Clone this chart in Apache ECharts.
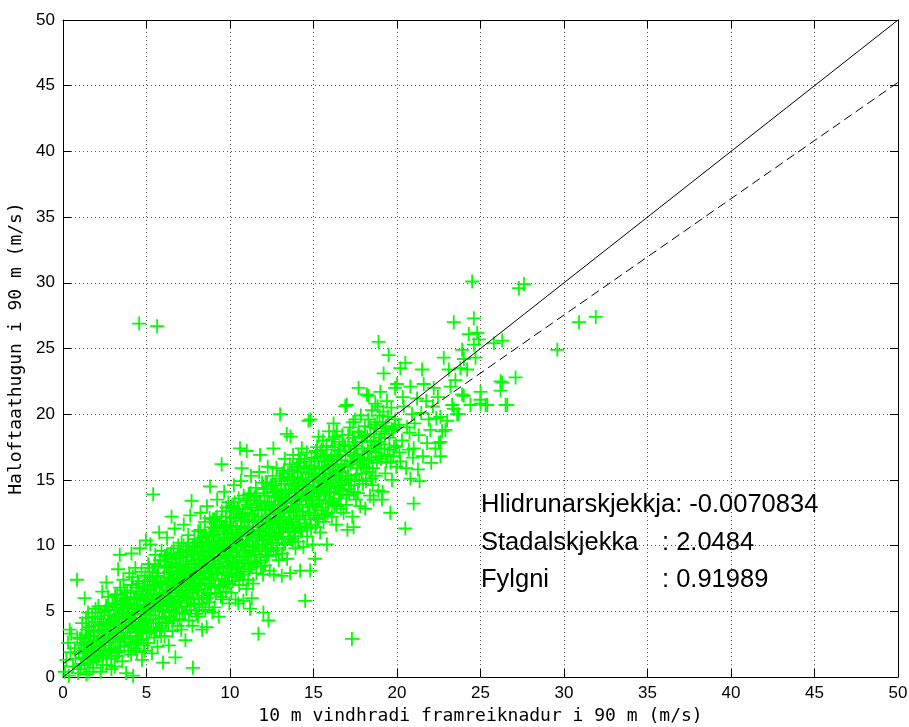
<!DOCTYPE html>
<html>
<head>
<meta charset="utf-8">
<title>Vindhradi 90 m</title>
<script src="https://cdn.jsdelivr.net/npm/echarts@6/dist/echarts.min.js"></script>
<style>
  html, body { margin: 0; padding: 0; background: #fff; }
  #chart { width: 909px; height: 727px; }
</style>
</head>
<body>
<div id="chart"></div>
<script>
// Forecast (x) vs. observed (y) wind speed at 90 m, m/s
const pointsLow = [
  [0.1,0.4],[0.2,1.3],[0.3,2.6],[0.35,0.1],[0.45,1.9],[0.5,3.3],[0.6,0.8],[0.7,2.2],[0.75,1.4],[0.85,3.0],[0.9,0.3],[0.95,1.8],[0.84,7.4],[0.4,3.6],
  [1.05,0.6],[1.1,2.4],[1.15,4.1],[1.2,1.5],[1.3,6.0],[1.35,3.2],[1.4,0.2],[1.45,2.0],[1.55,3.8],[1.6,1.1],[1.65,2.7],[1.75,4.6],[1.8,0.7],[1.85,3.4],[1.9,1.9],[1.95,5.2],[1.5,4.9],[1.7,2.2],
  [2.05,1.2],[2.1,3.5],[2.12,5.4],[2.2,2.3],[2.25,0.4],[2.3,4.4],[2.35,6.5],[2.4,1.7],[2.45,3.0],[2.5,5.0],[2.55,2.6],[2.6,0.9],[2.65,3.9],[2.7,6.1],[2.75,1.9],[2.8,4.7],[2.85,3.3],[2.9,2.1],[2.95,5.6],[2.6,7.2],[2.2,4.0],[2.9,0.6],[2.4,2.9],[2.7,4.2],
  [3.02,2.2],[3.05,4.6],[3.1,0.8],[3.12,6.2],[3.18,3.4],[3.22,5.3],[3.25,1.6],[3.3,8.2],[3.32,4.0],[3.38,2.7],[3.4,9.3],[3.42,6.8],[3.48,3.1],[3.5,5.0],[3.55,1.2],[3.58,4.4],[3.62,7.4],[3.66,2.4],[3.7,5.8],[3.74,3.7],[3.78,0.3],[3.82,4.9],[3.85,6.4],[3.9,2.0],[3.93,3.9],[3.97,7.9],[3.6,5.5],[3.35,3.8],[3.88,5.2],[3.15,2.9],
  [4.02,3.1],[4.05,5.6],[4.08,1.7],[4.1,9.4],[4.12,7.0],[4.16,4.2],[4.2,0.1],[4.22,2.6],[4.25,6.1],[4.3,4.8],[4.33,8.3],[4.36,3.4],[4.4,5.5],[4.42,1.9],[4.46,7.3],[4.5,4.0],[4.52,2.8],[4.56,26.9],[4.58,6.5],[4.6,9.8],[4.63,5.0],[4.67,3.6],[4.7,8.0],[4.73,1.3],[4.76,4.5],[4.8,6.9],[4.83,2.4],[4.86,5.8],[4.9,3.9],[4.93,7.7],[4.96,10.4],[4.98,5.1],[4.15,3.8],[4.45,6.0],[4.65,4.2],[4.88,2.0]
];
const pointsMid = [
  [5.02,4.3],[5.05,6.6],[5.08,2.6],[5.1,8.6],[5.14,5.2],[5.18,3.4],[5.2,7.4],[5.23,10.1],[5.26,4.7],[5.3,6.0],[5.33,1.8],[5.36,8.0],[5.4,13.9],[5.42,5.5],[5.46,3.0],[5.5,7.0],[5.53,9.3],[5.56,4.1],[5.6,6.3],[5.64,26.7],[5.66,2.3],[5.7,8.4],[5.73,5.0],[5.76,11.0],[5.8,3.7],[5.83,7.1],[5.86,5.9],[5.9,9.6],[5.93,4.5],[5.96,6.8],[5.99,1.1],[5.45,6.9],[5.75,4.4],[5.15,5.9],[5.62,7.7],[5.88,3.1],
  [6.02,5.0],[6.05,7.6],[6.08,3.1],[6.1,9.2],[6.14,6.1],[6.17,4.2],[6.2,8.3],[6.23,10.6],[6.26,5.5],[6.3,7.0],[6.33,2.4],[6.36,9.0],[6.4,6.4],[6.43,4.6],[6.46,8.0],[6.5,12.2],[6.52,5.9],[6.55,3.5],[6.58,7.5],[6.62,9.8],[6.65,4.9],[6.68,11.3],[6.7,6.8],[6.73,1.5],[6.76,8.6],[6.8,5.3],[6.83,7.2],[6.86,3.9],[6.9,10.0],[6.93,6.2],[6.96,8.1],[6.99,4.4],[6.45,7.3],[6.15,8.8],[6.85,9.3],[6.6,5.7],[6.35,5.1],[6.78,6.6],
  [7.02,5.8],[7.05,8.4],[7.08,3.6],[7.1,10.2],[7.13,6.9],[7.16,4.8],[7.2,9.1],[7.23,11.6],[7.26,6.2],[7.3,7.8],[7.33,2.8],[7.36,9.7],[7.4,5.4],[7.43,8.6],[7.46,7.1],[7.5,10.8],[7.52,4.3],[7.55,6.6],[7.58,8.1],[7.62,12.3],[7.65,5.6],[7.68,9.4],[7.7,13.4],[7.72,7.4],[7.75,3.9],[7.78,0.7],[7.8,8.9],[7.83,6.0],[7.86,10.5],[7.9,7.7],[7.93,5.1],[7.96,9.9],[7.99,6.7],[7.15,7.5],[7.45,9.2],[7.6,7.0],[7.88,8.3],[7.35,6.4],[7.25,8.1],[7.7,5.9],
  [8.02,6.6],[8.05,9.4],[8.08,4.6],[8.1,11.1],[8.13,7.8],[8.16,5.6],[8.2,10.2],[8.23,12.5],[8.26,7.1],[8.3,8.7],[8.33,3.6],[8.36,10.6],[8.4,6.2],[8.43,9.5],[8.46,7.9],[8.5,11.8],[8.52,5.1],[8.55,7.4],[8.58,9.0],[8.6,3.8],[8.62,13.0],[8.65,6.4],[8.68,10.3],[8.72,8.3],[8.75,5.7],[8.8,14.5],[8.82,9.7],[8.85,6.9],[8.88,11.4],[8.92,8.6],[8.95,4.9],[8.98,10.8],[8.15,8.9],[8.45,8.4],[8.7,7.6],[8.9,7.4],[8.35,5.3],[8.25,9.9],[8.55,10.1],[8.78,12.1],
  [9.02,7.4],[9.05,10.3],[9.08,5.3],[9.1,12.0],[9.13,8.6],[9.16,6.4],[9.2,11.1],[9.23,13.5],[9.26,7.9],[9.3,9.6],[9.33,4.6],[9.36,11.6],[9.4,7.0],[9.43,10.4],[9.46,8.8],[9.5,16.2],[9.52,12.6],[9.55,5.9],[9.58,8.2],[9.62,9.9],[9.65,14.1],[9.68,7.3],[9.7,11.3],[9.73,9.2],[9.76,6.5],[9.8,12.9],[9.83,10.6],[9.86,7.8],[9.9,13.3],[9.93,9.5],[9.96,5.6],[9.99,11.8],[9.15,9.8],[9.45,6.1],[9.6,10.9],[9.85,8.5],[9.35,8.3],[9.25,10.0],[9.75,12.2],[9.95,7.1]
];
const pointsHigh = [
  [10.02,8.3],[10.05,11.2],[10.08,6.4],[10.1,13.0],[10.13,9.5],[10.16,7.3],[10.2,12.1],[10.23,14.6],[10.26,8.8],[10.3,10.5],[10.33,5.9],[10.36,12.6],[10.4,7.9],[10.43,11.4],[10.46,9.7],[10.5,5.6],[10.52,13.6],[10.55,7.0],[10.58,9.1],[10.6,17.4],[10.62,10.8],[10.65,14.9],[10.68,8.2],[10.7,15.9],[10.72,12.2],[10.75,10.1],[10.78,7.4],[10.8,5.8],[10.82,13.8],[10.85,11.5],[10.88,8.7],[10.92,12.8],[10.95,10.4],[10.98,6.7],[10.15,10.6],[10.45,8.3],[10.64,11.9],[10.9,9.4],[10.38,9.2],[10.28,13.3],
  [11.0,17.2],[11.03,9.2],[11.06,12.0],[11.09,7.4],[11.12,13.9],[11.15,10.3],[11.18,8.2],[11.2,5.2],[11.23,12.9],[11.26,15.3],[11.3,6.0],[11.32,9.7],[11.35,11.4],[11.38,7.1],[11.42,13.5],[11.45,8.8],[11.48,12.2],[11.52,10.6],[11.55,14.4],[11.58,7.9],[11.62,10.0],[11.65,12.7],[11.7,3.3],[11.72,11.1],[11.75,15.6],[11.78,9.1],[11.8,16.9],[11.82,13.2],[11.85,8.4],[11.88,11.8],[11.92,14.8],[11.95,10.4],[11.98,7.8],[11.1,11.0],[11.4,10.1],[11.6,13.8],[11.9,9.6],[11.28,8.6],
  [12.0,4.9],[12.03,10.1],[12.06,13.0],[12.1,8.5],[12.13,14.8],[12.16,11.3],[12.2,9.2],[12.23,13.8],[12.26,16.0],[12.3,4.3],[12.32,10.7],[12.35,12.4],[12.38,8.1],[12.42,14.5],[12.45,9.8],[12.48,13.1],[12.52,11.6],[12.55,15.3],[12.6,17.4],[12.62,7.8],[12.65,10.9],[12.68,13.7],[12.72,12.1],[12.75,9.3],[12.78,15.9],[12.82,10.2],[12.85,14.1],[12.88,12.8],[12.92,8.9],[12.95,11.9],[12.98,13.4],[12.15,12.0],[12.4,11.0],[12.7,14.6],[12.9,10.6],[12.25,9.6],
  [13.0,20.0],[13.03,11.0],[13.06,13.9],[13.1,7.7],[13.12,9.4],[13.15,15.5],[13.18,12.2],[13.22,10.1],[13.25,14.7],[13.28,16.6],[13.32,11.6],[13.35,13.3],[13.4,18.5],[13.42,9.0],[13.45,15.2],[13.48,10.7],[13.52,14.0],[13.55,12.5],[13.58,16.2],[13.6,7.9],[13.62,18.3],[13.65,11.8],[13.68,14.6],[13.72,13.0],[13.75,10.3],[13.78,16.9],[13.82,11.3],[13.85,15.0],[13.88,13.7],[13.92,9.8],[13.95,12.8],[13.98,14.3],[13.2,13.0],[13.5,12.0],[13.7,15.7],[13.9,11.0],
  [14.02,12.0],[14.05,14.8],[14.08,10.3],[14.12,16.3],[14.15,13.1],[14.2,8.1],[14.22,11.1],[14.25,15.6],[14.3,17.4],[14.32,12.6],[14.35,14.2],[14.4,9.9],[14.43,16.0],[14.46,11.7],[14.5,5.8],[14.52,15.0],[14.55,13.4],[14.6,17.1],[14.62,10.7],[14.65,12.9],[14.7,19.5],[14.72,15.5],[14.75,14.0],[14.8,8.1],[14.82,19.6],[14.85,11.3],[14.88,16.6],[14.92,13.7],[14.95,10.1],[14.98,15.2],[14.28,13.6],[14.58,14.6],[14.78,12.3],[14.1,16.9]
];
const pointsUpper = [
  [15.02,13.0],[15.05,15.8],[15.1,9.0],[15.12,11.4],[15.15,17.2],[15.2,14.0],[15.23,12.1],[15.27,16.4],[15.3,18.3],[15.33,13.5],[15.37,15.2],[15.4,11.0],[15.43,17.0],[15.47,12.7],[15.5,15.9],[15.53,14.4],[15.57,18.0],[15.6,11.8],[15.63,13.8],[15.67,16.8],[15.7,15.0],[15.73,12.4],[15.77,17.6],[15.8,10.1],[15.83,14.8],[15.87,16.1],[15.9,13.2],[15.93,18.7],[15.97,15.5],[15.45,14.2],[15.65,15.8],[15.25,15.0],
  [16.02,14.0],[16.06,16.6],[16.1,12.2],[16.14,18.1],[16.18,15.0],[16.2,19.3],[16.24,13.1],[16.28,17.3],[16.32,15.8],[16.36,11.6],[16.4,18.7],[16.44,14.5],[16.48,16.9],[16.52,13.6],[16.56,17.9],[16.6,15.3],[16.64,12.8],[16.68,16.2],[16.72,18.4],[16.76,14.2],[16.8,12.5],[16.84,16.0],[16.88,17.6],[16.9,20.6],[16.94,15.1],[16.98,13.8],[16.5,15.6],[16.3,14.6],[16.7,14.8],[16.15,16.0],
  [17.0,20.7],[17.03,11.2],[17.06,15.3],[17.1,17.6],[17.14,13.9],[17.18,19.0],[17.22,16.2],[17.26,14.6],[17.3,2.9],[17.32,12.2],[17.36,18.2],[17.4,11.4],[17.43,16.8],[17.47,15.0],[17.5,19.6],[17.54,13.5],[17.58,17.4],[17.62,15.9],[17.66,14.0],[17.7,22.0],[17.72,18.6],[17.76,16.5],[17.8,13.0],[17.84,19.9],[17.88,15.5],[17.92,17.9],[17.96,14.7],[17.45,17.9],
  [18.02,16.0],[18.06,18.4],[18.1,12.8],[18.14,14.9],[18.2,21.5],[18.24,17.2],[18.28,19.6],[18.3,21.4],[18.34,15.6],[18.38,13.8],[18.42,18.0],[18.46,16.7],[18.5,20.3],[18.54,14.6],[18.6,13.5],[18.64,17.6],[18.68,19.2],[18.72,15.3],[18.76,18.9],[18.8,16.3],[18.84,20.6],[18.88,14.2],[18.92,17.9],[18.96,19.9],[18.45,15.1],[18.7,20.8],
  [18.9,25.5],[19.0,21.7],[19.04,16.6],[19.08,18.7],[19.1,13.5],[19.14,14.1],[19.18,20.2],[19.2,23.1],[19.24,17.4],[19.3,15.5],[19.34,19.1],[19.4,21.0],[19.44,16.9],[19.5,24.5],[19.54,18.2],[19.6,12.5],[19.62,16.3],[19.66,20.5],[19.7,15.0],[19.76,18.8],[19.82,17.5],[19.88,22.0],[19.9,19.6],[19.96,16.0]
];
// densest part of the cloud, close to the fit line
const pointsCore = [
  [1.02,2.9],[1.08,1.0],[1.12,3.0],[1.22,2.6],[1.28,0.9],[1.32,1.8],[1.42,3.6],[1.48,1.3],[1.52,2.5],[1.58,0.4],[1.62,3.1],[1.68,1.6],[1.72,3.9],[1.78,2.4],[1.82,1.3],[1.88,2.8],[1.92,4.2],[1.98,1.5],[1.25,2.0],[1.38,4.5],
  [2.02,2.7],[2.08,4.6],[2.14,1.6],[2.18,3.1],[2.24,4.9],[2.28,2.0],[2.32,3.6],[2.38,0.9],[2.42,4.1],[2.48,2.4],[2.52,3.5],[2.58,5.4],[2.62,1.4],[2.68,3.2],[2.72,5.1],[2.78,2.7],[2.82,3.9],[2.88,1.4],[2.92,4.3],[2.98,3.0],
  [3.04,3.6],[3.08,5.5],[3.14,2.0],[3.2,4.5],[3.24,6.3],[3.28,3.0],[3.34,4.8],[3.36,1.9],[3.44,5.6],[3.46,2.3],[3.52,4.2],[3.54,6.0],[3.6,3.1],[3.64,4.9],[3.68,6.6],[3.72,2.9],[3.76,4.4],[3.8,5.9],[3.86,3.4],[3.92,5.3],[3.96,4.6],[3.99,2.7],
  [4.03,4.4],[4.06,6.4],[4.1,2.5],[4.14,5.2],[4.18,7.6],[4.24,3.9],[4.28,5.9],[4.32,2.2],[4.34,4.5],[4.38,6.8],[4.44,3.1],[4.48,5.2],[4.54,7.1],[4.57,3.7],[4.62,5.9],[4.66,2.9],[4.7,4.8],[4.74,6.3],[4.78,3.5],[4.82,5.4],[4.87,7.3],[4.92,4.4],[4.95,6.0],[4.99,3.3],
  [5.03,5.3],[5.06,7.3],[5.1,3.8],[5.13,6.2],[5.17,8.3],[5.21,4.7],[5.25,6.7],[5.29,3.6],[5.32,5.8],[5.38,7.6],[5.41,4.4],[5.44,6.3],[5.48,8.6],[5.52,5.2],[5.58,7.3],[5.61,3.5],[5.65,5.6],[5.68,7.9],[5.72,4.1],[5.78,6.4],[5.81,8.9],[5.84,5.4],[5.9,7.2],[5.94,3.9],[5.97,5.7],
  [6.03,6.2],[6.07,8.5],[6.11,4.6],[6.16,7.0],[6.19,5.4],[6.22,9.3],[6.27,6.6],[6.31,4.1],[6.34,8.0],[6.38,5.8],[6.42,7.5],[6.47,9.4],[6.51,5.0],[6.54,6.9],[6.57,8.7],[6.61,4.3],[6.64,7.6],[6.69,5.6],[6.72,9.0],[6.75,7.0],[6.79,4.9],[6.82,8.3],[6.87,6.1],[6.91,7.8],[6.95,5.3],[6.98,9.1],
  [7.03,7.1],[7.07,9.5],[7.11,5.3],[7.14,8.0],[7.18,6.1],[7.22,10.0],[7.27,7.3],[7.31,4.9],[7.34,8.8],[7.38,6.6],[7.42,7.9],[7.47,10.2],[7.51,6.0],[7.54,8.3],[7.57,9.6],[7.61,5.1],[7.64,7.5],[7.69,8.6],[7.73,6.4],[7.77,10.0],[7.81,7.2],[7.85,5.5],[7.89,9.3],[7.92,6.9],[7.95,8.1],[7.98,4.8],
  [8.03,8.0],[8.07,10.3],[8.11,6.0],[8.14,9.0],[8.18,7.0],[8.22,11.2],[8.27,8.3],[8.31,5.9],[8.34,9.6],[8.38,7.5],[8.42,8.7],[8.47,11.0],[8.51,6.7],[8.54,9.2],[8.57,10.7],[8.61,6.0],[8.64,8.5],[8.69,9.5],[8.73,7.1],[8.77,10.8],[8.81,8.1],[8.84,6.3],[8.89,10.1],[8.93,7.9],[8.96,9.1],[8.99,12.0],
  [9.03,8.9],[9.07,11.3],[9.11,6.9],[9.14,9.9],[9.18,7.8],[9.22,12.2],[9.27,9.1],[9.31,6.8],[9.34,10.6],[9.38,8.4],[9.42,9.6],[9.47,11.9],[9.51,7.5],[9.54,10.1],[9.57,11.4],[9.61,6.9],[9.64,9.3],[9.69,10.4],[9.73,8.0],[9.77,11.6],[9.81,9.0],[9.84,7.2],[9.89,11.0],[9.92,8.7],[9.95,10.0],[9.98,12.6],
  [10.03,9.8],[10.07,12.2],[10.11,7.7],[10.14,10.9],[10.18,8.6],[10.22,13.0],[10.27,10.0],[10.31,7.6],[10.34,11.5],[10.38,8.3],[10.42,10.4],[10.47,12.8],[10.51,8.4],[10.54,11.0],[10.57,12.4],[10.61,7.8],[10.63,10.2],[10.69,11.3],[10.73,8.9],[10.77,12.5],[10.81,9.9],[10.84,8.0],[10.89,11.9],[10.93,9.6],[10.96,10.9],[10.99,13.4],
  [11.02,10.7],[11.07,13.1],[11.11,8.6],[11.14,11.8],[11.17,9.5],[11.22,14.0],[11.27,10.9],[11.31,8.4],[11.34,12.4],[11.37,9.9],[11.41,11.2],[11.47,13.7],[11.51,9.3],[11.54,11.9],[11.57,13.2],[11.61,8.7],[11.64,11.1],[11.69,12.2],[11.73,9.8],[11.77,13.4],[11.81,10.8],[11.84,8.9],[11.89,12.8],[11.93,10.5],[11.96,11.8],[11.99,14.3],
  [12.02,11.6],[12.07,14.0],[12.11,9.6],[12.14,12.7],[12.17,10.4],[12.22,14.8],[12.27,11.8],[12.31,9.3],[12.34,13.3],[12.37,10.8],[12.41,12.1],[12.47,14.6],[12.51,10.2],[12.54,12.8],[12.57,14.1],[12.61,9.6],[12.64,12.0],[12.69,13.1],[12.73,10.7],[12.77,14.3],[12.81,11.7],[12.84,9.8],[12.89,13.7],[12.93,11.4],[12.96,12.7],[12.99,15.1],
  [13.02,12.5],[13.07,14.9],[13.11,10.5],[13.14,13.6],[13.17,11.3],[13.23,15.7],[13.27,12.7],[13.31,10.2],[13.34,14.2],[13.37,11.7],[13.41,13.0],[13.47,15.5],[13.51,11.1],[13.54,13.7],[13.57,15.0],[13.61,10.5],[13.64,12.9],[13.69,14.0],[13.73,11.6],[13.77,15.2],[13.81,12.6],[13.84,10.7],[13.89,14.6],[13.93,12.3],[13.96,13.6],[13.99,16.0],
  [14.03,13.4],[14.07,15.8],[14.11,11.4],[14.14,14.5],[14.17,12.2],[14.23,16.6],[14.27,13.6],[14.31,11.1],[14.34,15.1],[14.37,12.6],[14.41,13.9],[14.47,16.4],[14.51,12.0],[14.54,14.6],[14.57,15.9],[14.61,11.4],[14.64,13.8],[14.69,14.9],[14.73,12.5],[14.77,16.1],[14.81,13.5],[14.84,11.6],[14.89,15.5],[14.93,13.2],[14.96,14.5],
  [15.03,14.3],[15.07,16.7],[15.11,12.3],[15.14,15.4],[15.18,13.1],[15.22,17.5],[15.28,14.5],[15.31,12.0],[15.35,16.0],[15.38,13.5],[15.42,14.8],[15.48,17.3],[15.51,12.9],[15.55,15.5],[15.58,16.8],[15.62,12.3],[15.66,14.7],[15.69,15.8],[15.74,13.4],[15.78,16.9],[15.82,14.4],[15.86,12.5],[15.89,16.4],[15.94,14.1],[15.98,15.4],
  [16.04,15.2],[16.08,17.5],[16.12,13.3],[16.17,16.2],[16.22,14.1],[16.27,18.3],[16.34,15.4],[16.38,13.0],[16.42,16.8],[16.46,14.4],[16.54,15.7],[16.58,17.2],[16.62,13.9],[16.66,16.5],[16.74,15.6],[16.78,17.7],[16.86,14.6],[16.92,16.9],[16.96,13.1],
  [17.04,16.1],[17.08,18.4],[17.12,14.3],[17.2,17.1],[17.24,15.0],[17.34,16.4],[17.38,19.4],[17.42,14.1],[17.52,17.6],[17.56,15.4],[17.64,16.9],[17.68,18.7],[17.74,14.9],[17.82,16.2],[17.86,18.3],[17.94,16.6],
  [18.04,17.0],[18.08,19.1],[18.16,15.9],[18.22,18.3],[18.32,16.5],[18.4,19.0],[18.48,17.4],[18.56,15.9],[18.62,18.5],[18.74,17.1],[18.82,19.4],[18.9,16.8],[18.98,18.2],
  [19.06,17.7],[19.16,19.4],[19.26,18.5],[19.36,16.4],[19.46,19.8],[19.56,17.3],[19.68,18.9],[19.78,16.8],[19.86,19.0],[19.94,17.6]
];
const pointsTail = [
  [20.0,22.3],[20.2,23.5],[20.5,23.9],[20.8,22.1],[20.2,16.4],[20.7,17.3],[20.8,15.1],[20.5,11.3],[21.0,13.2],[20.1,19.2],[20.3,18.0],[20.4,20.6],[20.6,19.0],[20.9,20.0],[20.15,17.1],[20.55,15.9],[20.35,21.3],[20.75,18.6],[20.95,16.7],
  [21.05,19.3],[21.2,21.2],[21.3,18.4],[21.45,20.1],[21.55,16.8],[21.6,22.3],[21.8,17.8],[21.9,19.6],[21.25,15.8],[21.75,21.0],[21.0,17.4],[21.5,23.4],[21.35,14.9],
  [22.0,18.8],[22.15,20.6],[22.3,17.4],[22.5,17.8],[22.6,17.9],[22.6,16.8],[22.7,18.7],[22.6,19.8],[22.8,24.3],[22.9,18.8],[22.2,22.0],[22.45,21.3],[22.35,19.7],[22.05,16.3],
  [23.0,19.5],[23.1,23.4],[23.3,20.7],[23.4,27.0],[23.4,20.4],[23.6,20.0],[23.7,20.0],[23.9,21.5],[23.9,24.9],[24.0,24.2],[24.0,21.4],[23.2,22.1],[23.5,22.6],[23.8,23.5],
  [24.3,26.1],[24.4,20.7],[24.5,30.1],[24.6,27.3],[24.6,25.3],[24.8,26.2],[24.9,25.7],[25.0,21.7],[25.0,20.8],[25.0,21.1],[25.3,20.7],[25.4,20.7],[25.8,25.4],[26.2,21.8],[26.3,25.6],[26.3,22.4],[26.2,22.5],[26.5,20.7],[26.6,20.7],[27.1,22.8],[27.3,29.6],[27.6,29.9],[29.6,24.9],[30.9,27.0],[31.9,27.4],[24.2,23.4],[24.7,24.3]
];

// Reference line y = x and least-squares fit line (end points)
const identityLine = [[0, 0], [50, 50]];
const fitLine = [[0, 1.0], [50, 45.25]];

// Axis ticks
const tickValues = [0, 5, 10, 15, 20, 25, 30, 35, 40, 45, 50];

// Statistics text
const statLabels = ['Hlidrunarskjekkja', 'Stadalskjekka', 'Fylgni'];
const statValues = ['-0.0070834', '2.0484', '0.91989'];

const xTitle = '10 m vindhradi framreiknadur i 90 m (m/s)';
const yTitle = 'Haloftaathugun i 90 m (m/s)';

const FONT = '"Liberation Sans", Arial, Helvetica, sans-serif';
const TITLE_FONT = '"DejaVu Sans Mono", "Liberation Mono", monospace';
const allPoints = [].concat(pointsLow, pointsMid, pointsCore, pointsHigh, pointsUpper, pointsTail);

// plus-shaped marker outline
const plusPath = 'path://M6.1,0L7.9,0L7.9,6.1L14,6.1L14,7.9L7.9,7.9L7.9,14L6.1,14L6.1,7.9L0,7.9L0,6.1L6.1,6.1Z';

const axisMin = tickValues[0];
const axisMax = tickValues[tickValues.length - 1];
const step = tickValues[1] - tickValues[0];

function mainAxis(pos, name, gap) {
  return {
    type: 'value', position: pos, min: axisMin, max: axisMax, interval: step,
    axisLine: { show: true, onZero: false, lineStyle: { color: '#000', width: 1 } },
    axisTick: { show: true, inside: true, length: 8, lineStyle: { color: '#000' } },
    axisLabel: { show: true, color: '#000', fontSize: 17, fontFamily: FONT, margin: 8, showMinLabel: true, showMaxLabel: true },
    splitLine: { show: true, lineStyle: { color: '#555', width: 1, type: [1, 3] } },
    name: name, nameLocation: 'middle', nameGap: gap,
    nameTextStyle: { color: '#000', fontSize: 18, fontFamily: TITLE_FONT }
  };
}
function mirrorAxis(pos) {
  return {
    type: 'value', position: pos, min: axisMin, max: axisMax, interval: step,
    axisLine: { show: true, onZero: false, lineStyle: { color: '#000', width: 1 } },
    axisTick: { show: true, inside: true, length: 8, lineStyle: { color: '#000' } },
    axisLabel: { show: false },
    splitLine: { show: false }
  };
}

const statFont = '25.5px ' + FONT;
const statRows = [505, 543, 580];
const graphics = [];
statLabels.forEach(function (lbl, i) {
  if (i === 0) {
    graphics.push({ type: 'text', x: 481, y: statRows[i], z: 10,
      style: { text: lbl + ': ' + statValues[i], font: statFont, fill: '#000', verticalAlign: 'middle', align: 'left' } });
  } else {
    graphics.push({ type: 'text', x: 481, y: statRows[i], z: 10,
      style: { text: lbl, font: statFont, fill: '#000', verticalAlign: 'middle', align: 'left' } });
    graphics.push({ type: 'text', x: 662, y: statRows[i], z: 10,
      style: { text: ': ' + statValues[i], font: statFont, fill: '#000', verticalAlign: 'middle', align: 'left' } });
  }
});

const chart = echarts.init(document.getElementById('chart'), null, { renderer: 'canvas' });
chart.setOption({
  animation: false,
  backgroundColor: '#fff',
  grid: { left: 63, right: 11, top: 20, bottom: 50, containLabel: false, outerBoundsMode: 'none' },
  xAxis: [mainAxis('bottom', xTitle, 27), mirrorAxis('top')],
  yAxis: [Object.assign(mainAxis('left', yTitle, 34), { nameRotate: 90 }), mirrorAxis('right')],
  graphic: graphics,
  series: [
    {
      type: 'scatter', data: allPoints, symbol: plusPath, symbolSize: 14,
      itemStyle: { color: '#00ff00', opacity: 1 }, z: 2, silent: true
    },
    {
      type: 'line', data: identityLine, symbol: 'none', z: 3, silent: true,
      lineStyle: { color: '#000', width: 1, type: 'solid' }
    },
    {
      type: 'line', data: fitLine, symbol: 'none', z: 3, silent: true,
      lineStyle: { color: '#000', width: 1, type: [9, 5] }
    }
  ]
});
</script>
</body>
</html>
